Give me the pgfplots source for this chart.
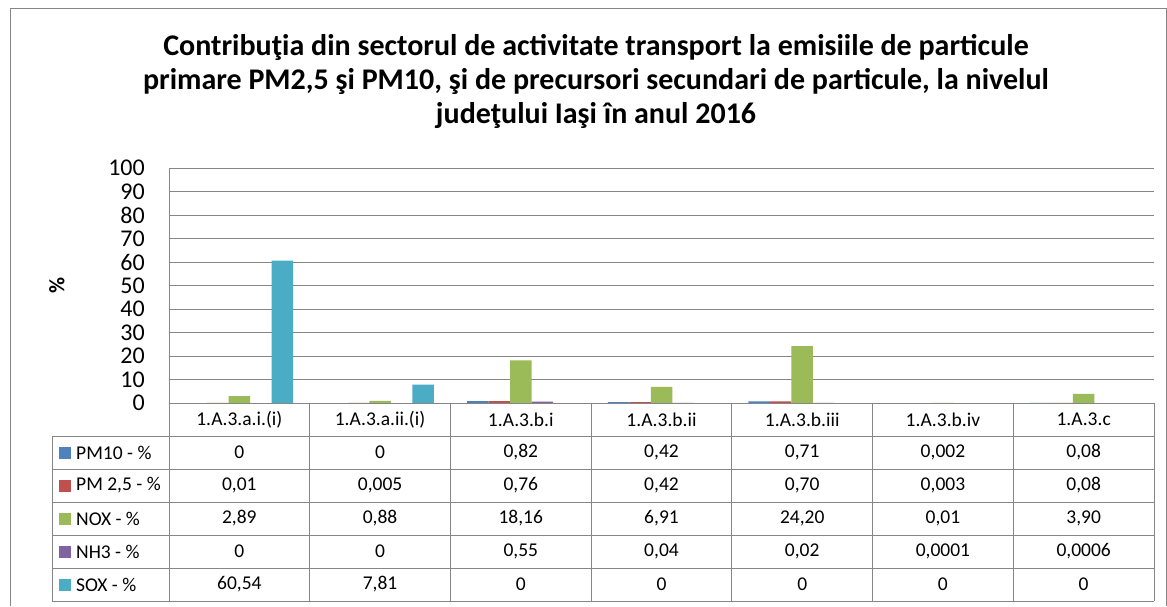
\documentclass[border=0pt]{standalone}
\usepackage{fontspec}
\setmainfont{Carlito}
\usepackage{pgfplots}
\pgfplotsset{compat=1.18}
\definecolor{cPMa}{HTML}{4F81BD}
\definecolor{cPMb}{HTML}{C0504D}
\definecolor{cNOX}{HTML}{9BBB59}
\definecolor{cNH}{HTML}{8064A2}
\definecolor{cSOX}{HTML}{4BACC6}
\definecolor{gridc}{HTML}{868686}
\begin{document}
\begin{tikzpicture}[x=1pt,y=-1pt]
\useasboundingbox (0,0) rectangle (1167,606);
\fill[white] (0,0) rectangle (1167,606);
\draw[gridc, line width=1pt] (10,606) -- (10,8) -- (1166,8) -- (1166,606);
% title
\begin{scope}[every node/.style={anchor=base, inner sep=0pt, font=\fontsize{30}{34}\selectfont\bfseries}]
\node at (596,55) {Contribuţia din sectorul de activitate transport la emisiile de particule};
\node at (596,89) {primare PM2,5 şi PM10, şi de precursori secundari de particule, la nivelul};
\node at (596,123) {judeţului Iaşi în anul 2016};
\end{scope}
\node[rotate=90, font=\fontsize{22}{22}\selectfont\bfseries, inner sep=0pt] at (57,285) {\%};
\begin{axis}[
  at={(169pt,-403pt)}, anchor=south west,
  scale only axis, width=985pt, height=235pt,
  xmin=-0.5, xmax=6.5, ymin=0, ymax=100,
  ytick={0,10,...,100}, xtick=\empty,
  ymajorgrids, grid style={gridc, line width=1pt},
  axis x line*=bottom, axis y line*=left,
  axis line style={gridc, line width=1pt, -},
  major tick length=0pt,
  yticklabel style={font=\fontsize{24}{24}\selectfont, /pgf/number format/assume math mode=true, inner sep=0pt, xshift=-24pt},
  ybar=0pt, bar width=21.5pt, clip=false,
]
\addplot[fill=cPMa, draw=none] coordinates {(0,0) (1,0) (2,0.82) (3,0.42) (4,0.71) (5,0.002) (6,0.08)};
\addplot[fill=cPMb, draw=none] coordinates {(0,0.01) (1,0.005) (2,0.76) (3,0.42) (4,0.70) (5,0.003) (6,0.08)};
\addplot[fill=cNOX, draw=none] coordinates {(0,2.89) (1,0.88) (2,18.16) (3,6.91) (4,24.20) (5,0.01) (6,3.90)};
\addplot[fill=cNH, draw=none] coordinates {(0,0) (1,0) (2,0.55) (3,0.04) (4,0.02) (5,0.0001) (6,0.0006)};
\addplot[fill=cSOX, draw=none] coordinates {(0,60.54) (1,7.81) (2,0) (3,0) (4,0) (5,0) (6,0)};
\end{axis}
% data table
\begin{scope}[gridc, line width=1pt]
\foreach \yy in {436,469,502,535,568,601} \draw (52,\yy) -- (1154,\yy);
\draw (169,403) -- (1154,403);
\draw (52,436) -- (52,601);
\foreach \k in {0,...,7} \draw ({169+140.714*\k},403) -- ({169+140.714*\k},601);
\end{scope}
\begin{scope}[every node/.style={inner sep=0pt, font=\fontsize{19.5}{19.5}\selectfont}]
\foreach \t [count=\i from 0] in {1.A.3.a.i.(i),1.A.3.a.ii.(i),1.A.3.b.i,1.A.3.b.ii,1.A.3.b.iii,1.A.3.b.iv,1.A.3.c}
  \node at ({169+140.714*(\i+0.5)},419.5) {\t};
\foreach \v [count=\i from 0] in {{0},{0},{0,82},{0,42},{0,71},{0,002},{0,08}}
  \node at ({169+140.714*(\i+0.5)},452.5) {\v};
\foreach \v [count=\i from 0] in {{0,01},{0,005},{0,76},{0,42},{0,70},{0,003},{0,08}}
  \node at ({169+140.714*(\i+0.5)},485.5) {\v};
\foreach \v [count=\i from 0] in {{2,89},{0,88},{18,16},{6,91},{24,20},{0,01},{3,90}}
  \node at ({169+140.714*(\i+0.5)},518.5) {\v};
\foreach \v [count=\i from 0] in {{0},{0},{0,55},{0,04},{0,02},{0,0001},{0,0006}}
  \node at ({169+140.714*(\i+0.5)},551.5) {\v};
\foreach \v [count=\i from 0] in {{60,54},{7,81},{0},{0},{0},{0},{0}}
  \node at ({169+140.714*(\i+0.5)},584.5) {\v};
\foreach \c/\t/\yy in {cPMa/{PM10 - \%}/452.5, cPMb/{PM 2,5 - \%}/485.5, cNOX/{NOX - \%}/518.5, cNH/{NH3 - \%}/551.5, cSOX/{SOX - \%}/584.5} {
  \fill[\c] (59,\yy-6) rectangle (71,\yy+6);
  \node[anchor=west] at (76,\yy) {\t};
}
\end{scope}
\end{tikzpicture}
\end{document}
